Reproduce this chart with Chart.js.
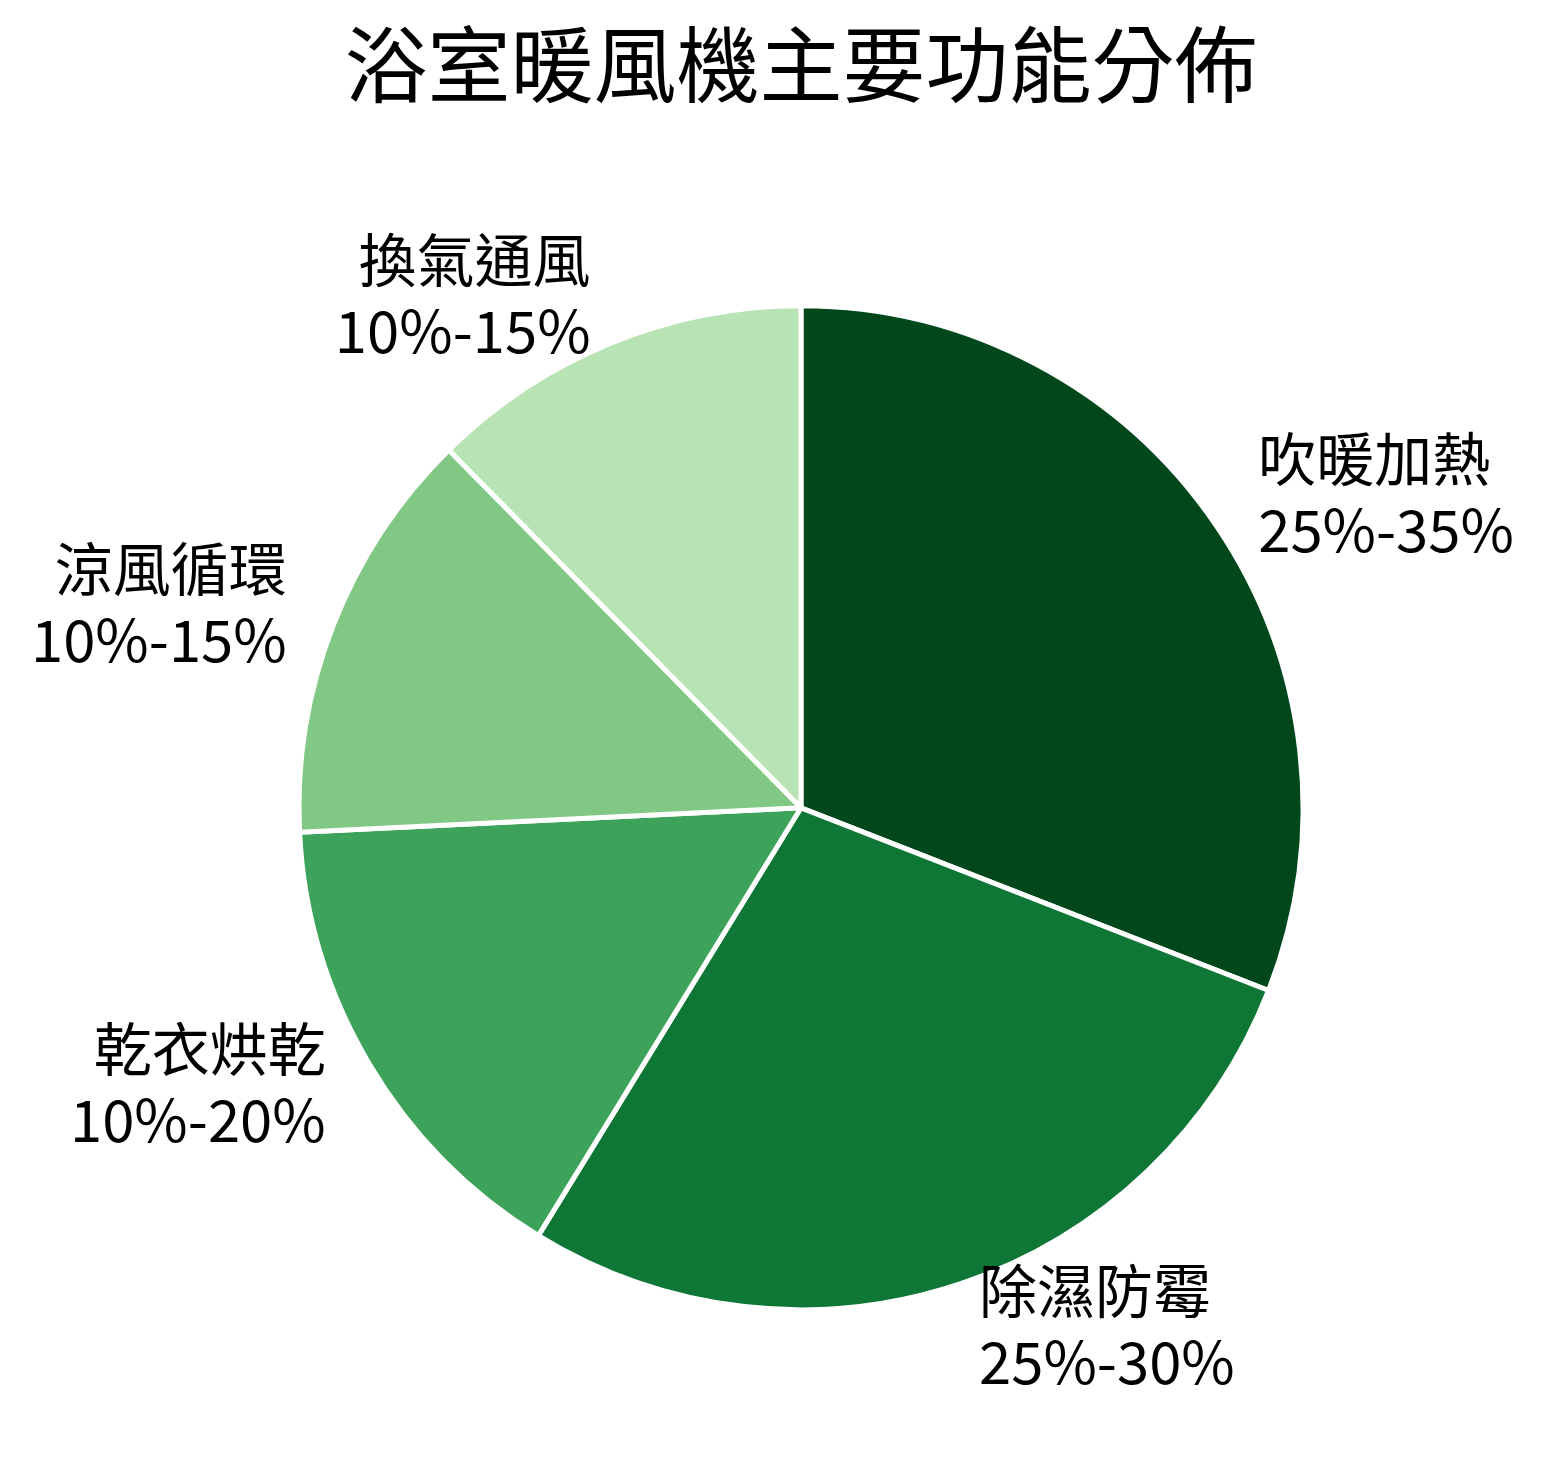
<!DOCTYPE html>
<html>
<head>
<meta charset="utf-8">
<script src="https://cdn.jsdelivr.net/npm/chart.js@4"></script>
<style>
  html, body { margin: 0; padding: 0; background: #fff; }
  #wrap { width: 1546px; height: 1468px; }
</style>
</head>
<body>
<div id="wrap"><canvas id="pieChart"></canvas></div>
<script>
const categories = ['吹暖加熱', '除濕防霉', '乾衣烘乾', '涼風循環', '換氣通風'];
const rangeLabels = ['25%-35%', '25%-30%', '10%-20%', '10%-15%', '10%-15%'];
const shares = [30, 27, 15, 13, 12];
const sliceColors = ['#00471c', '#0e7736', '#3da35a', '#80c883', '#b8e3b5'];

const FONT = '"Noto Sans CJK TC", "Noto Sans CJK SC", sans-serif';

// labels sit outside the pie, like matplotlib's default pie labels
const outsideLabels = {
    id: 'outsideLabels',
    afterDatasetsDraw(chart) {
        const ctx = chart.ctx;
        const meta = chart.getDatasetMeta(0);
        const fontSize = 58;
        const lineH = 71;
        ctx.save();
        ctx.font = `${fontSize}px ${FONT}`;
        ctx.fillStyle = '#000';
        ctx.textBaseline = 'middle';
        meta.data.forEach((arc, i) => {
            const { x, y, startAngle, endAngle } = arc.getProps(['x', 'y', 'startAngle', 'endAngle'], true);
            const mid = (startAngle + endAngle) / 2;
            const r = 500 * 1.1;
            const right = Math.cos(mid) >= 0;
            const lx = x + Math.cos(mid) * r + (right ? 3 : -2);
            const ly = y + Math.sin(mid) * r - 3;
            ctx.textAlign = right ? 'left' : 'right';
            ctx.fillText(categories[i], lx, ly - lineH / 2);
            ctx.fillText(rangeLabels[i], lx, ly + lineH / 2);
        });
        ctx.restore();
    }
};

new Chart(document.getElementById('pieChart').getContext('2d'), {
    type: 'pie',
    data: {
        labels: categories,
        datasets: [{
            data: shares,
            backgroundColor: sliceColors,
            borderColor: '#ffffff',
            borderWidth: 5
        }]
    },
    options: {
        responsive: true,
        maintainAspectRatio: false,
        animation: false,
        radius: 502,
        layout: { padding: { left: 301, right: 245, top: 0, bottom: 160 } },
        plugins: {
            legend: { display: false },
            tooltip: { enabled: false },
            title: {
                display: true,
                text: '浴室暖風機主要功能分佈',
                color: '#000',
                font: { family: FONT, size: 83, weight: 'normal', lineHeight: 1.2 },
                padding: { top: 15, bottom: 193 }
            }
        }
    },
    plugins: [outsideLabels]
});
</script>
</body>
</html>
